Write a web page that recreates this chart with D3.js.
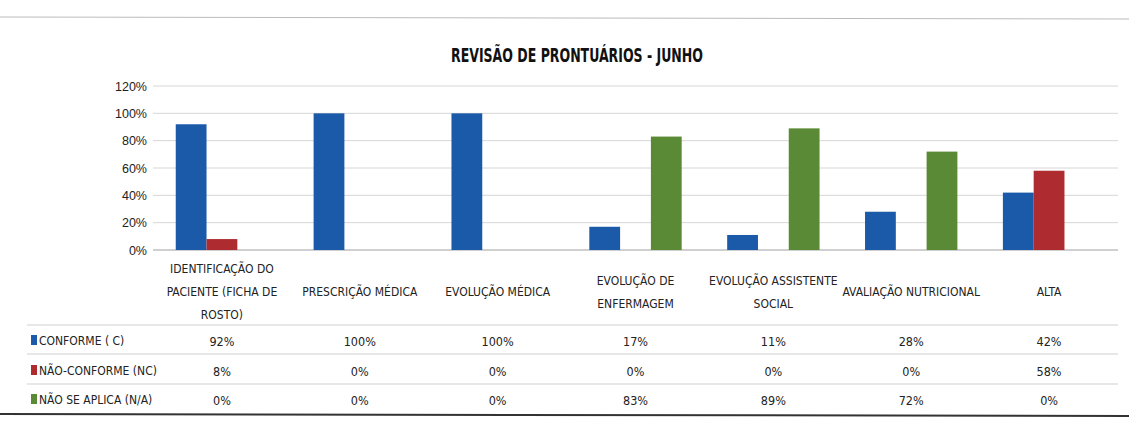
<!DOCTYPE html>
<html>
<head>
<meta charset="utf-8">
<script src="https://cdn.jsdelivr.net/npm/d3@7"></script>
<style>
    body { margin: 0; background: #fff; }
    svg { display: block; font-family: "DejaVu Sans", sans-serif; font-stretch: condensed; }
</style>
</head>
<body>
<svg width="1129" height="429"></svg>
<script>
const categories = [
    "IDENTIFICAÇÃO DO\nPACIENTE (FICHA DE\nROSTO)",
    "PRESCRIÇÃO MÉDICA",
    "EVOLUÇÃO MÉDICA",
    "EVOLUÇÃO DE\nENFERMAGEM",
    "EVOLUÇÃO ASSISTENTE\nSOCIAL",
    "AVALIAÇÃO NUTRICIONAL",
    "ALTA"
];
const seriesNames = ["CONFORME ( C)", "NÃO-CONFORME (NC)", "NÃO SE APLICA (N/A)"];
const conforme = [92, 100, 100, 17, 11, 28, 42];
const naoConforme = [8, 0, 0, 0, 0, 0, 58];
const naoSeAplica = [0, 0, 0, 83, 89, 72, 0];
const yTicks = [0, 20, 40, 60, 80, 100, 120];
const seriesColors = ["#1b5aa8", "#ae2b30", "#5a8a35"];

const seriesValues = [conforme, naoConforme, naoSeAplica];

const svg = d3.select("svg");
const area = { left: 153, right: 1118, top: 86, bottom: 250 };

// borda superior (como na digitalização)
svg.append("line")
    .attr("x1", 0).attr("x2", 1129).attr("y1", 17).attr("y2", 19)
    .attr("stroke", "#bbb").attr("stroke-width", 1);

svg.append("text")
    .attr("x", 577).attr("y", 62)
    .attr("text-anchor", "middle")
    .attr("textLength", 252)
    .attr("lengthAdjust", "spacingAndGlyphs")
    .style("font-size", "19px").style("font-weight", "bold").style("fill", "#111")
    .text("REVISÃO DE PRONTUÁRIOS - JUNHO");

const scaleX = d3.scaleBand()
    .domain(categories.map((d, i) => i))
    .range([area.left, area.right]);
const scaleS = d3.scaleBand()
    .domain(seriesNames.map((d, i) => i))
    .range([scaleX.bandwidth() * 0.165, scaleX.bandwidth() * 0.835]);
const scaleY = d3.scaleLinear()
    .domain([0, 120])
    .range([area.bottom, area.top]);

// grade
svg.append("g")
    .selectAll("line")
    .data(yTicks)
    .enter()
    .append("line")
    .attr("x1", area.left).attr("x2", area.right)
    .attr("y1", d => scaleY(d)).attr("y2", d => scaleY(d))
    .attr("stroke", d => d === 0 ? "#a0a0a0" : "#d6d6d6")
    .attr("stroke-width", 1);

const axisY = d3.axisLeft(scaleY)
    .tickValues(yTicks)
    .tickSize(0)
    .tickPadding(6)
    .tickFormat(d => d + "%");
svg.append("g")
    .attr("transform", `translate(${area.left}, 0)`)
    .call(axisY)
    .call(g => g.select(".domain").remove())
    .selectAll("text")
    .style("font-size", "12.5px")
    .style("font-family", "inherit")
    .style("fill", "#222");

// barras
seriesValues.forEach((vals, s) => {
    svg.append("g")
        .selectAll("rect")
        .data(vals)
        .enter()
        .append("rect")
        .attr("x", (d, i) => scaleX(i) + scaleS(s))
        .attr("y", d => scaleY(d))
        .attr("width", scaleS.bandwidth())
        .attr("height", d => scaleY(0) - scaleY(d))
        .attr("fill", seriesColors[s]);
});

// rótulos das categorias
const lineH = 23;
categories.forEach((c, i) => {
    const lines = c.split("\n");
    const cx = scaleX(i) + scaleX.bandwidth() / 2;
    const y0 = 296 - (lines.length - 1) * lineH / 2;
    lines.forEach((ln, k) => {
        svg.append("text")
            .attr("x", cx).attr("y", y0 + k * lineH)
            .attr("text-anchor", "middle")
            .style("font-size", "12px").style("fill", "#222")
            .text(ln);
    });
});

// tabela de dados
const rowY = [341, 371, 400];
const rowLines = [325, 354, 384];
svg.append("g")
    .selectAll("line")
    .data(rowLines)
    .enter()
    .append("line")
    .attr("x1", 27).attr("x2", area.right)
    .attr("y1", d => d).attr("y2", d => d)
    .attr("stroke", "#cfcfcf").attr("stroke-width", 1);

seriesNames.forEach((name, s) => {
    svg.append("rect")
        .attr("x", 31).attr("y", rowY[s] - 6)
        .attr("width", 6).attr("height", 10)
        .attr("fill", seriesColors[s]);
    svg.append("text")
        .attr("x", 39).attr("y", rowY[s] + 4)
        .style("font-size", "12px").style("fill", "#222")
        .text(name);
    svg.append("g")
        .selectAll("text")
        .data(seriesValues[s])
        .enter()
        .append("text")
        .attr("x", (d, i) => scaleX(i) + scaleX.bandwidth() / 2)
        .attr("y", rowY[s] + 4.5)
        .attr("text-anchor", "middle")
        .style("font-size", "12.5px").style("fill", "#222")
        .text(d => d + "%");
});

svg.append("line")
    .attr("x1", 0).attr("x2", 1129).attr("y1", 414).attr("y2", 416)
    .attr("stroke", "#333").attr("stroke-width", 2);
</script>
</body>
</html>
